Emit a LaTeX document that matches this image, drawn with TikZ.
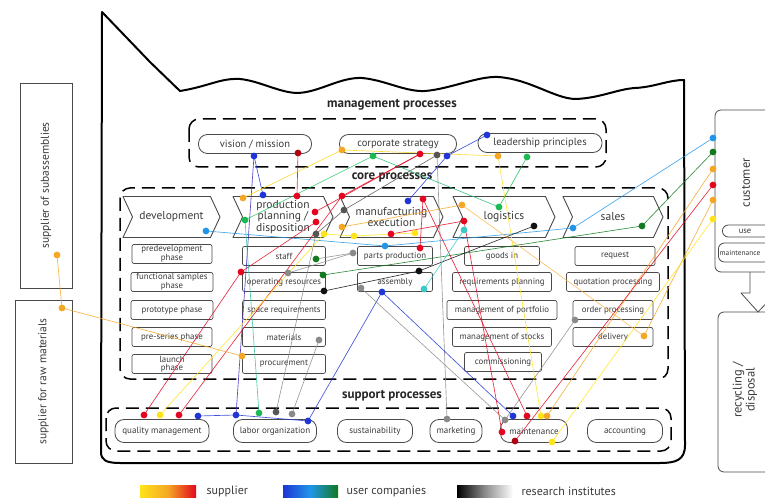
\documentclass[tikz,border=0pt]{standalone}
\usepackage{fontspec}
\setmainfont{PT Sans}
\usetikzlibrary{shapes.symbols,shapes.geometric}
\definecolor{cY}{HTML}{FFE31A}
\definecolor{cO}{HTML}{F5A623}
\definecolor{cR}{HTML}{E3061E}
\definecolor{cDR}{HTML}{B0000F}
\definecolor{cB}{HTML}{1F35D6}
\definecolor{cLB}{HTML}{2196E8}
\definecolor{cG}{HTML}{1DB954}
\definecolor{cDG}{HTML}{117A1E}
\definecolor{cC}{HTML}{3CC8C8}
\definecolor{cGr}{HTML}{8A8A8A}
\definecolor{cDGr}{HTML}{555555}
\definecolor{cK}{HTML}{111111}
\definecolor{boxc}{HTML}{4A4A4A}
\definecolor{txt}{HTML}{3A3A3A}
\begin{document}
\begin{tikzpicture}[x=1pt,y=-1pt,
  subbox/.style={draw=boxc, line width=0.7pt, rounded corners=2pt, minimum height=19pt, inner sep=1pt, font=\fontsize{8.8}{7.6}\selectfont, text=txt, align=center},
  mgmt/.style={draw=boxc, line width=0.8pt, rounded corners=9pt, minimum height=19pt, inner sep=1pt, font=\fontsize{10.5}{11}\selectfont, text=txt},
  corebox/.style={signal, signal from=west, signal to=east, signal pointer angle=130, draw=boxc, line width=0.9pt, line join=round, minimum height=41pt, inner sep=0pt, font=\fontsize{11.5}{11.5}\selectfont, text=txt, align=center},
  suppbox/.style={draw=boxc, line width=0.8pt, rounded corners=9pt, minimum height=23pt, inner sep=1pt, font=\fontsize{9}{9}\selectfont, text=txt},
  dbox/.style={draw=black, line width=1.5pt, dash pattern=on 13pt off 7pt, rounded corners=10pt},
  ttl/.style={font=\bfseries\fontsize{13}{13}\selectfont, text=black!85},
  sidebox/.style={draw=boxc, line width=0.8pt, rotate=90, inner sep=2pt, font=\fontsize{11.5}{12}\selectfont, text=txt, align=center},
  conn/.style={line width=0.65pt, opacity=0.85},
  lgd/.style={anchor=west, font=\fontsize{12}{12}\selectfont, text=txt}
]
\useasboundingbox (0,0) rectangle (765,502);
% outer frame
\draw[line width=2pt, line join=round] (101,452) -- (102,12) -- (150,62) -- (180,91)
  .. controls (210,86) and (220,78) .. (240,79)
  .. controls (260,81) and (280,93) .. (298,93)
  .. controls (320,92) and (340,77) .. (362,78)
  .. controls (385,80) and (405,92) .. (425,91)
  .. controls (450,89) and (478,76) .. (498,77)
  .. controls (530,79) and (555,99) .. (576,99)
  .. controls (600,98) and (618,89) .. (635,88)
  .. controls (655,87) and (668,80) .. (684,80)
  -- (685,445) .. controls (685,460) and (676,463) .. (660,463)
  -- (120,463) .. controls (106,463) and (101,460) .. (101,452) -- cycle;

% side boxes
\node[sidebox, minimum width=205pt, minimum height=52pt] (subass) at (46,185.5) {supplier of subassemblies};
\node[sidebox, minimum width=163pt, minimum height=57pt] (rawmat) at (43.5,381.5) {supplier for raw materials};
\draw[boxc, line width=0.8pt, rounded corners=6pt] (800,110) -- (715,110) -- (715,272) -- (800,272);
\node[rotate=90, font=\fontsize{12.5}{12.5}\selectfont, text=txt] (cust) at (746,183) {customer};
\node[draw=boxc, line width=0.8pt, rounded corners=6pt, minimum width=70pt, minimum height=12pt, anchor=west, inner sep=0pt] (usebox) at (722,231) {};
\node[font=\fontsize{8.5}{8.5}\selectfont, text=txt] (uset) at (745,231) {use};
\node[draw=boxc, line width=0.8pt, rounded corners=6pt, minimum width=75pt, minimum height=19pt, anchor=west, inner sep=0pt] (maintc) at (718,252.5) {};
\node[anchor=west, inner sep=0pt, font=\fontsize{7.4}{7.4}\selectfont, text=txt] (maintt) at (719.5,252.5) {maintenance};
\draw[boxc, line width=0.8pt, line join=round] (750,272) -- (750,293) -- (741,293) -- (758,312) -- (776,293) -- (766,293) -- (766,272);
\draw[boxc, line width=0.8pt, rounded corners=6pt] (800,312) -- (718,312) -- (718,472) -- (800,472);
\node[rotate=90, font=\fontsize{12.5}{13}\selectfont, text=txt, align=center] (recyc) at (745,390) {recycling /\\disposal};

% titles and dashed frames
\node[ttl] (tmgmt) at (392,105) {management processes};
\node[ttl] (tcore) at (392,177) {core processes};
\node[ttl] (tsupp) at (392,396) {support processes};
\draw[dbox] (189,119) rectangle (606,167);
\draw[dbox] (120,188) rectangle (668,379);
\draw[dbox] (106,408) rectangle (671,451);

% management nodes
\node[mgmt, minimum width=113pt] (vision) at (255,144) {vision / mission};
\node[mgmt, minimum width=117pt] (corp) at (398,144) {corporate strategy};
\node[mgmt, minimum width=124pt] (lead) at (540,143) {leadership principles};

% core nodes
\node[corebox, minimum width=97pt] (dev) at (171.5,217) {development};
\node[corebox, minimum width=100pt] (ppd) at (283,217) {production\\planning /\\disposition};
\node[corebox, minimum width=103pt] (mex) at (391.5,217) {manufacturing\\execution};
\node[corebox, minimum width=102pt] (logi) at (504,217) {logistics};
\node[corebox, minimum width=100pt] (sales) at (613,217) {sales};

% development subs
\node[subbox, minimum width=80pt] (predev) at (172,254) {predevelopment\\phase};
\node[subbox, minimum width=82pt] (funcs) at (172,282) {functional samples\\phase};
\node[subbox, minimum width=82pt] (proto) at (172,310) {prototype phase};
\node[subbox, minimum width=80pt] (preser) at (172,337) {pre-series phase};
\node[subbox, minimum width=80pt] (launch) at (172,364) {launch\\phase};
% production planning subs
\node[subbox, minimum width=83pt] (staff) at (284,256) {staff};
\node[subbox, minimum width=83pt] (opres) at (284,282) {operating resources};
\node[subbox, minimum width=83pt] (space) at (284,310) {space requirements};
\node[subbox, minimum width=83pt] (mater) at (284,337) {materials};
\node[subbox, minimum width=83pt] (procu) at (284,364) {procurement};
% manufacturing subs
\node[subbox, minimum width=75pt] (parts) at (395,256) {parts production};
\node[subbox, minimum width=75pt] (assem) at (395,282) {assembly};
% logistics subs
\node[subbox, minimum width=75pt] (goods) at (502,256) {goods in};
\node[subbox, minimum width=99pt] (reqpl) at (502,282) {requirements planning};
\node[subbox, minimum width=110pt] (portf) at (502,310) {management of portfolio};
\node[subbox, minimum width=99pt] (stock) at (502,337) {management of stocks};
\node[subbox, minimum width=77pt] (commi) at (503,362) {commissioning};
% sales subs
\node[subbox, minimum width=80pt] (reque) at (615,256) {request};
\node[subbox, minimum width=93pt] (quota) at (613,282) {quotation processing};
\node[subbox, minimum width=80pt] (order) at (613,310) {order processing};
\node[subbox, minimum width=80pt] (deliv) at (613,337) {delivery};

% support nodes
\node[suppbox, minimum width=94pt] (qual) at (162,431) {quality management};
\node[suppbox, minimum width=83pt] (labor) at (275,431) {labor organization};
\node[suppbox, minimum width=75pt] (sust) at (375,431) {sustainability};
\node[suppbox, minimum width=52pt] (mark) at (456,431) {marketing};
\node[suppbox, minimum width=67pt] (maint) at (534,431) {maintenance};
\node[suppbox, minimum width=75pt] (acco) at (625,431) {accounting};

% legend
\shade[left color=cY, right color=cR, middle color=cO] (140,485) rectangle (196,497);
\shade[left color=cB, right color=cDG, middle color=cLB] (283,485) rectangle (338,497);
\shade[left color=black, right color=white, middle color=black!45] (457,485) rectangle (513,497);
\node[lgd] (lsup) at (203,491) {supplier};
\node[lgd] (lusr) at (343,491) {user companies};
\node[lgd] (lres) at (518,491) {research institutes};

% dot coordinates
\coordinate (vmB) at (254,156); \coordinate (vmR) at (298,153);
\coordinate (csO) at (342,150); \coordinate (csG) at (373,156); \coordinate (csR) at (420,154);
\coordinate (csGr) at (437,155); \coordinate (csB) at (447,156);
\coordinate (lpB) at (487,135); \coordinate (lpY) at (498,156); \coordinate (lpG) at (527,157);
\coordinate (devLB) at (206,231);
\coordinate (ppO) at (243,198); \coordinate (ppB) at (263,195); \coordinate (ppR) at (297,196);
\coordinate (ppG) at (245,220); \coordinate (ppR2) at (315,212); \coordinate (ppR3) at (316,222);
\coordinate (ppGr) at (316,234); \coordinate (ppY) at (324,234);
\coordinate (meR) at (342,196); \coordinate (meGr) at (344,210); \coordinate (meB) at (408,201);
\coordinate (meR2) at (423,199); \coordinate (meO) at (342,227); \coordinate (meY) at (354,236);
\coordinate (meR3) at (391,234); \coordinate (meY2) at (415,233);
\coordinate (loO) at (462,205); \coordinate (loR) at (464,221); \coordinate (loC) at (464,230);
\coordinate (loG) at (499,207); \coordinate (loK) at (534,226);
\coordinate (saLB) at (573,228); \coordinate (saG) at (642,226);
\coordinate (stG) at (316,259);
\coordinate (orR) at (241,272); \coordinate (orGr) at (288,273); \coordinate (orG) at (323,275); \coordinate (orK) at (324,291);
\coordinate (maGr) at (319,340); \coordinate (prO) at (242,356);
\coordinate (paLB) at (385,246); \coordinate (paR) at (420,248); \coordinate (paGr) at (353,253);
\coordinate (asK) at (419,271); \coordinate (asGr) at (361,288); \coordinate (asB) at (382,292); \coordinate (asC) at (424,289);
\coordinate (opGr) at (575,320); \coordinate (deO) at (644,336);
\coordinate (qmR) at (144,415); \coordinate (qmY) at (160,415); \coordinate (qmR2) at (179,415); \coordinate (qmB) at (198,416);
\coordinate (laB) at (236,415); \coordinate (laG) at (259,413); \coordinate (laGr) at (276,412); \coordinate (laGr2) at (292,414); \coordinate (laB2) at (308,421);
\coordinate (mkGr) at (447,419);
\coordinate (mnB) at (513,416); \coordinate (mnR) at (527,416); \coordinate (mnY) at (541,416); \coordinate (mnO) at (547,416);
\coordinate (mnGr) at (505,420); \coordinate (mnR2) at (502,432); \coordinate (mnDR) at (515,441); \coordinate (mnY2) at (552,442);
\coordinate (cuLB) at (713,138); \coordinate (cuG) at (713,152); \coordinate (cuO) at (713,169);
\coordinate (cuR) at (713,185); \coordinate (cuO2) at (713,200); \coordinate (cuY) at (713,219);
\coordinate (ssO) at (57,255); \coordinate (rmO) at (62,308);

% connectors
\draw[conn, cB] (vmB) -- (ppB);
\draw[conn, cB!70!violet] (vmB) -- (laB);
\draw[conn, cR] (vmR) -- (ppR);
\draw[conn, cY!80!cO] (csO) -- (ppO);
\draw[conn, cY!80!cO] (csO) -- (lpY);
\draw[conn, cY] (lpY) -- (mnY);
\draw[conn, cG] (csG) -- (ppG);
\draw[conn, cG!70!cC] (csG) -- (loG);
\draw[conn, cR] (csR) -- (meR);
\draw[conn, cR] (csR) -- (ppR2);
\draw[conn, cGr] (csGr) -- (mkGr);
\draw[conn, cDGr] (csGr) -- (meGr) -- (ppGr);
\draw[conn, cB] (csB) -- (lpB);
\draw[conn, cB] (csB) -- (meB);
\draw[conn, cG] (lpG) -- (loG);
\draw[conn, cLB] (cuLB) -- (saLB);
\draw[conn, cLB] (saLB) -- (paLB) -- (devLB);
\draw[conn, cDG] (cuG) -- (saG);
\draw[conn, cDG] (saG) -- (orG);
\draw[conn, cO] (cuO) -- (mnO);
\draw[conn, cR] (cuR) -- (mnDR);
\draw[conn, cO] (cuO2) -- (deO);
\draw[conn, cY] (cuY) -- (mnY2);
\draw[conn, cK] (orK) -- (asK) -- (loK);
\draw[conn, cB] (asB) -- (laB2);
\draw[conn, cB] (asB) -- (mnB);
\draw[conn, cGr] (asGr) -- (mnGr);
\draw[conn, cGr] (opGr) -- (mnGr);
\draw[conn, cR] (qmR) -- (orR) -- (ppR3);
\draw[conn, cR] (qmR2) -- (meR);
\draw[conn, cY] (qmY) -- (ppY);
\draw[conn, cB] (qmB) -- (laB) -- (laB2);
\draw[conn, cC!60!cG] (laG) -- (ppG);
\draw[conn, cGr] (laGr) -- (ppGr);
\draw[conn, cGr] (laGr2) -- (maGr);
\draw[conn, cGr] (orGr) -- (paGr);
\draw[conn, cGr] (stG) -- (paGr);
\draw[conn, cR] (mnR) -- (meR2);
\draw[conn, cR] (mnR2) -- (loR);
\draw[conn, cR] (paR) -- (meR2);
\draw[conn, cO] (meO) -- (loO);
\draw[conn, cR] (meR3) -- (loR);
\draw[conn, cC] (loC) -- (asC);
\draw[conn, cY] (ppY) -- (meY) -- (meY2);
\draw[conn, cO!80!white] (loO) -- (deO);
\draw[conn, cO] (ssO) -- (rmO) -- (prO);

% dots
\foreach \p/\c in {vmB/cB, vmR/cDR, csO/cO, csG/cG, csR/cR, csGr/cDGr, csB/cB, lpB/cB, lpY/cO, lpG/cG,
  devLB/cLB, ppO/cO, ppB/cB, ppR/cR, ppG/cG, ppR2/cR, ppR3/cR, ppGr/cDGr, ppY/cY,
  meR/cR, meGr/cDGr, meB/cB, meR2/cR, meO/cO, meY/cY, meR3/cR, meY2/cY,
  loO/cO, loR/cR, loC/cC, loG/cG, loK/cK, saLB/cLB, saG/cDG,
  stG/cDG, orR/cR, orGr/cGr, orG/cDG, orK/cK, maGr/cGr, prO/cO,
  paLB/cLB, paR/cR, paGr/cGr, asK/cK, asGr/cGr, asB/cB, asC/cC, opGr/cGr, deO/cO,
  qmR/cR, qmY/cY, qmR2/cR, qmB/cB, laB/cB, laG/cG, laGr/cDGr, laGr2/cGr, laB2/cB,
  mkGr/cGr, mnB/cB, mnR/cR, mnY/cY, mnO/cO, mnGr/cGr, mnR2/cR, mnDR/cDR, mnY2/cY,
  cuLB/cLB, cuG/cDG, cuO/cO, cuR/cR, cuO2/cO, cuY/cY, ssO/cO, rmO/cO}
  \fill[\c] (\p) circle (3.4pt);
\end{tikzpicture}
\end{document}
